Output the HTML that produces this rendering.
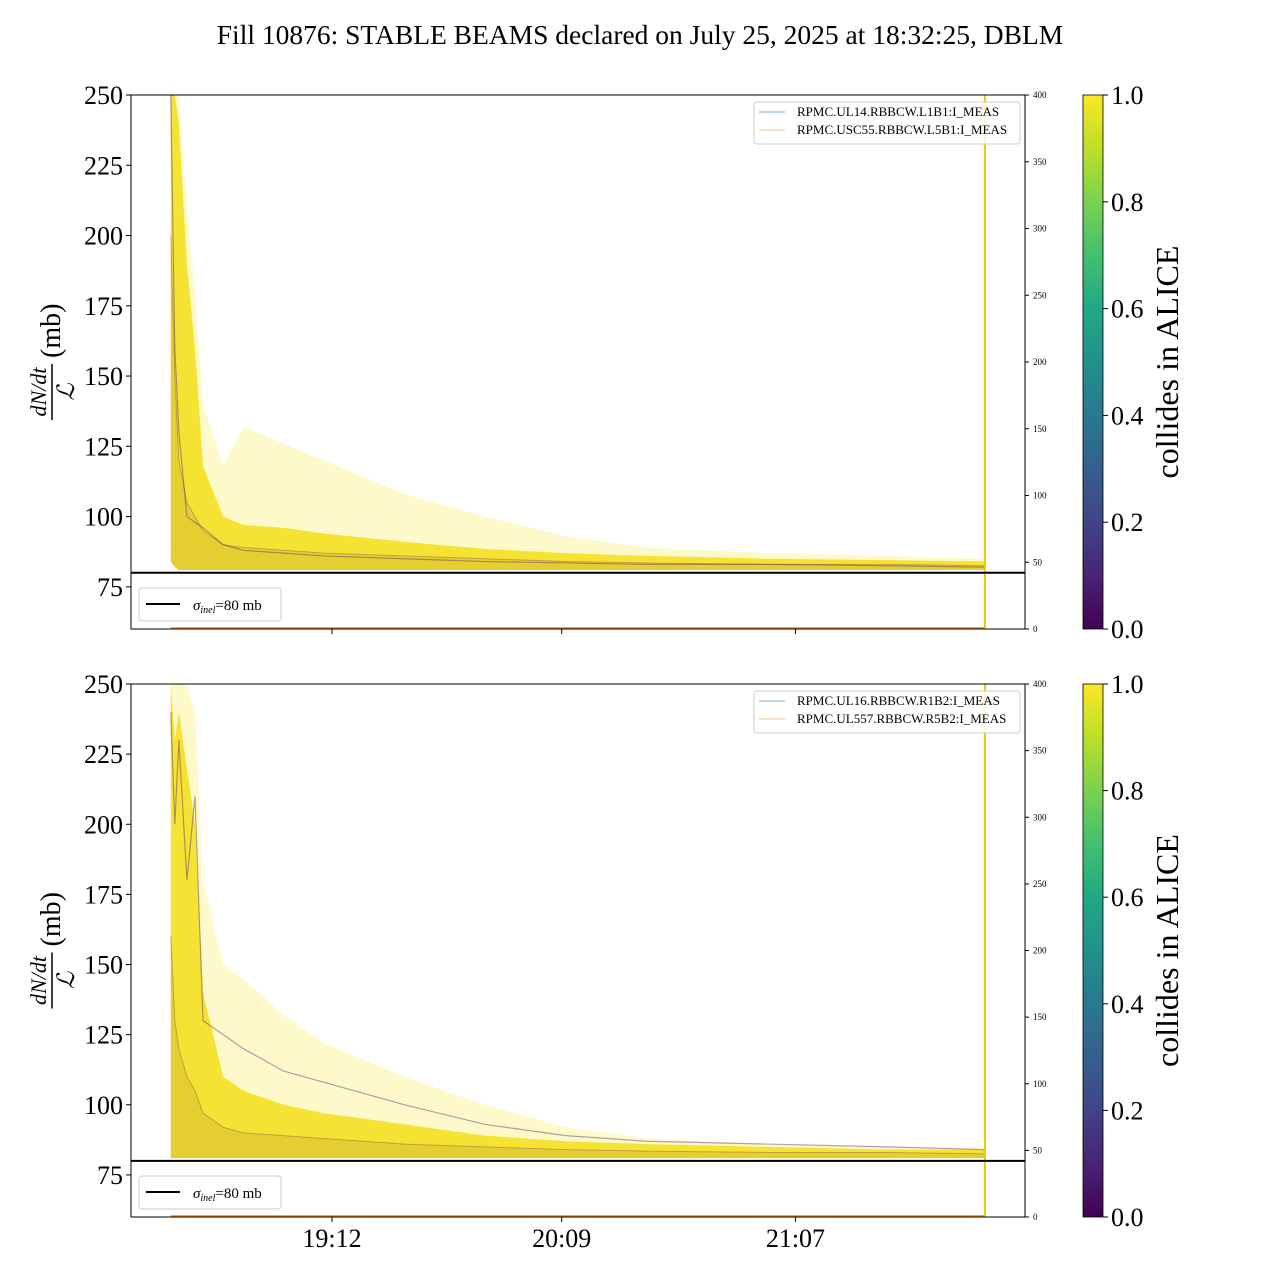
<!DOCTYPE html>
<html><head><meta charset="utf-8">
<style>
body{margin:0;background:#fff;}
svg{display:block;font-family:"Liberation Serif","DejaVu Serif",serif;}
</style></head>
<body>
<svg id="chart" width="1280" height="1280" viewBox="0 0 1280 1280">
<defs>
<linearGradient id="viridis" x1="0" y1="1" x2="0" y2="0">
<stop offset="0" stop-color="#440154"/><stop offset="0.1" stop-color="#482475"/><stop offset="0.2" stop-color="#414487"/>
<stop offset="0.3" stop-color="#355f8d"/><stop offset="0.4" stop-color="#2a788e"/><stop offset="0.5" stop-color="#21918c"/>
<stop offset="0.6" stop-color="#22a884"/><stop offset="0.7" stop-color="#44bf70"/><stop offset="0.8" stop-color="#7ad151"/>
<stop offset="0.9" stop-color="#bddf26"/><stop offset="1" stop-color="#fde725"/>
</linearGradient>
</defs>
<text x="640" y="44" font-size="27.5" text-anchor="middle">Fill 10876: STABLE BEAMS declared on July 25, 2025 at 18:32:25, DBLM</text>
<g id="panels"></g>
</svg>
<script>
// minutes since 18:30
const times = [2, 3, 4, 6, 8, 10, 15, 20, 30, 40, 60, 80, 100, 120, 150, 180, 204];
const topFaint = [250, 250, 250, 210, 180, 140, 118, 132, 126, 120, 108, 100, 93, 89, 87, 86, 85];
const topDense = [250, 250, 240, 190, 160, 118, 100, 97, 96, 94, 91, 88.5, 87, 86, 85, 84.5, 84];
const topCore  = [200, 150, 120, 105, 100, 95, 90, 89, 88, 87, 86, 85, 84, 83.5, 83, 83, 82.5];
const topLow   = [84, 82, 81, 81, 81, 81, 81, 81, 81, 81, 81, 81, 81, 81, 81, 81, 81];
const botFaint = [250, 250, 250, 250, 240, 180, 150, 145, 132, 122, 110, 100, 92, 88, 86, 85, 84.5];
const botDense = [250, 230, 240, 220, 200, 140, 110, 105, 100, 97, 93, 89, 87, 86, 85, 84, 84];
const botCore  = [160, 130, 120, 110, 105, 97, 92, 90, 89, 88, 86, 85, 84, 83.5, 83, 83, 82.5];
const botLow   = [81, 81, 81, 81, 81, 81, 81, 81, 81, 81, 81, 81, 81, 81, 81, 81, 81];
const botPurple = [240, 200, 230, 180, 210, 130, 125, 120, 112, 108, 100, 93, 89, 87, 86, 85, 84];
const topPurple = [250, 160, 130, 100, 98, 96, 90, 88, 87, 86, 85, 84, 83.5, 83, 83, 82.5, 82];
const yTicks = [75, 100, 125, 150, 175, 200, 225, 250];
const rTicks = [0, 50, 100, 150, 200, 250, 300, 350, 400];
const xTickTimes = [42, 99, 157];
const xTickLabels = ["19:12", "20:09", "21:07"];
const cbTicks = [0.0, 0.2, 0.4, 0.6, 0.8, 1.0];
const sigma = 80;
const endTime = 204;

const NS = "http://www.w3.org/2000/svg";
const L = 131, R = 1025;
const xS = t => 332 + (t - 42) * 4.03;
function mk(tag, attrs, parent, txt){const e=document.createElementNS(NS,tag);for(const k in attrs)e.setAttribute(k,attrs[k]);if(txt!==undefined)e.textContent=txt;parent.appendChild(e);return e;}
const root = document.getElementById('panels');

function band(g, yS, up, lo, fill, op, name){
  let pts = times.map((t,i)=>xS(t)+','+yS(Math.min(up[i],250))).join(' ') + ' ' +
    times.slice().reverse().map((t,j)=>{const i=times.length-1-j;return xS(t)+','+yS(lo[i]);}).join(' ');
  const p = mk('polygon',{points:pts,fill:fill,'fill-opacity':op},g);
  
  
}
function line(g, yS, vals, col, w, op, name){
  const d = times.map((t,i)=>(i?'L':'M')+xS(t)+','+yS(Math.min(vals[i],250))).join(' ');
  const p = mk('path',{d:d,fill:'none',stroke:col,'stroke-width':w,'stroke-opacity':op},g);
  
  
}

function panel(T, B, d, legendNames, showLabels, pre){
  const g = mk('g',{},root);
  
  
  const yS = v => B - (v - 60) * (B - T) / 190;
  const rS = v => B - v * (B - T) / 400;
  mk('defs',{},g).innerHTML = `<clipPath id="clip-${pre}"><rect x="${L}" y="${T}" width="${R-L}" height="${B-T}"/></clipPath>`;
  const cg = mk('g',{'clip-path':`url(#clip-${pre})`},g);
  band(cg, yS, d.faint, d.low, '#f6e62a', 0.25, pre+'-faint-envelope');
  band(cg, yS, d.dense, d.low, '#f3df1a', 0.85, pre+'-dense-band');
  band(cg, yS, d.core, d.low, '#c9a82c', 0.35, pre+'-core-band');
  line(cg, yS, d.purple, '#5b2c6f', 1.2, 0.45, pre+'-purple-trace');
  line(cg, yS, d.core, '#6b3a5a', 1, 0.35, pre+'-core-trace');
  const cur = mk('line',{x1:xS(times[0]),x2:xS(endTime),y1:rS(0)-1,y2:rS(0)-1,stroke:'#ff7f0e','stroke-width':1.5},cg);
  
  
  const vl = mk('line',{x1:xS(endTime),x2:xS(endTime),y1:T,y2:B,stroke:'#e8c800','stroke-width':2},cg);
  
  
  const sl = mk('line',{x1:L,x2:R,y1:yS(sigma),y2:yS(sigma),stroke:'#000','stroke-width':2},g);
  
  
  const fr = mk('rect',{x:L,y:T,width:R-L,height:B-T,fill:'none',stroke:'#000','stroke-width':1},g);
  
  
  yTicks.forEach(v=>{
    mk('line',{x1:L-5,x2:L,y1:yS(v),y2:yS(v),stroke:'#000'},g);
    const t = mk('text',{x:L-8,y:yS(v)+9,'font-size':26,'text-anchor':'end'},g,String(v));
    
    
  });
  rTicks.forEach(v=>{
    mk('line',{x1:R,x2:R+4,y1:rS(v),y2:rS(v),stroke:'#000'},g);
    const t = mk('text',{x:R+8,y:rS(v)+3,'font-size':9},g,String(v));
    
    
  });
  xTickTimes.forEach((tt,i)=>{
    mk('line',{x1:xS(tt),x2:xS(tt),y1:B,y2:B+5,stroke:'#000'},g);
    if(showLabels){
      const t = mk('text',{x:xS(tt),y:B+30,'font-size':26,'text-anchor':'middle'},g,xTickLabels[i]);
      
      
    }
  });
  const cy = (T+B)/2, lx = 52;
  const yl = mk('g',{transform:`rotate(-90 ${lx} ${cy})`},g);
  
  
  mk('text',{x:lx-30,y:cy-6,'font-size':22,'font-style':'italic','text-anchor':'middle'},yl,'dN/dt');
  mk('line',{x1:lx-58,x2:lx-2,y1:cy,y2:cy,stroke:'#000','stroke-width':1.5},yl);
  mk('text',{x:lx-30,y:cy+22,'font-size':24,'font-style':'italic','text-anchor':'middle'},yl,'ℒ');
  mk('text',{x:lx+4,y:cy+8,'font-size':28},yl,'(mb)');
  const lg = mk('g',{},g);
  
  
  mk('rect',{x:139,y:B-41,width:142,height:33,rx:3,fill:'#fff',stroke:'#ccc'},lg);
  mk('line',{x1:146,x2:180,y1:B-25,y2:B-25,stroke:'#000','stroke-width':2},lg);
  const st = mk('text',{x:193,y:B-19,'font-size':15},lg);
  st.innerHTML = '<tspan font-style="italic">σ</tspan><tspan font-style="italic" font-size="10" dy="3">inel</tspan><tspan dy="-3">=80 mb</tspan>';
  const rg = mk('g',{},g);
  
  
  mk('rect',{x:754,y:T+7,width:266,height:42,rx:3,fill:'#fff',stroke:'#ccc','fill-opacity':0.8},rg);
  mk('line',{x1:759,x2:785,y1:T+17,y2:T+17,stroke:'#1f77b4','stroke-opacity':0.6},rg);
  mk('line',{x1:759,x2:785,y1:T+35,y2:T+35,stroke:'#ff7f0e','stroke-opacity':0.5},rg);
  mk('text',{x:797,y:T+21,'font-size':13},rg,legendNames[0]);
  mk('text',{x:797,y:T+39,'font-size':13},rg,legendNames[1]);
  const cb = mk('g',{},g);
  
  
  mk('rect',{x:1083,y:T,width:20,height:B-T,fill:'url(#viridis)',stroke:'#000','stroke-width':0.8},cb);
  cbTicks.forEach(v=>{
    const y = B - v*(B-T);
    mk('line',{x1:1103,x2:1108,y1:y,y2:y,stroke:'#000'},cb);
    mk('text',{x:1111,y:y+9,'font-size':26},cb,v.toFixed(1));
  });
  mk('text',{x:1178,y:cy,'font-size':32,'text-anchor':'middle',transform:`rotate(-90 1178 ${cy})`},cb,'collides in ALICE');
}
panel(95, 629, {faint:topFaint,dense:topDense,core:topCore,low:topLow,purple:topPurple},
  ['RPMC.UL14.RBBCW.L1B1:I_MEAS','RPMC.USC55.RBBCW.L5B1:I_MEAS'], false, 'top');
panel(684, 1217, {faint:botFaint,dense:botDense,core:botCore,low:botLow,purple:botPurple},
  ['RPMC.UL16.RBBCW.R1B2:I_MEAS','RPMC.UL557.RBBCW.R5B2:I_MEAS'], true, 'bottom');
</script>
</body></html>
